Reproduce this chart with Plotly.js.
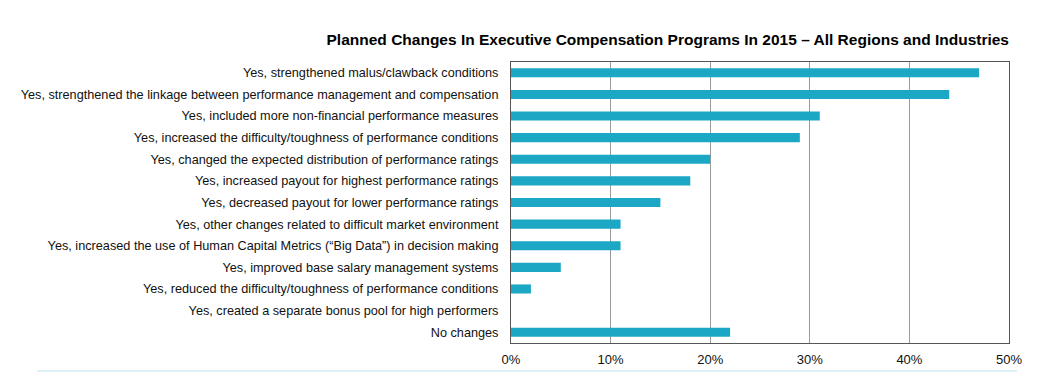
<!DOCTYPE html>
<html>
<head>
<meta charset="utf-8">
<script src="https://cdn.plot.ly/plotly-3.0.1.min.js"></script>
<style>html,body{margin:0;padding:0;background:#fff;}#chart{width:1043px;height:374px;}</style>
</head>
<body>
<div id="chart"></div>
<script>
const categories = [
  "Yes, strengthened malus/clawback conditions",
  "Yes, strengthened the linkage between performance management and compensation",
  "Yes, included more non-financial performance measures",
  "Yes, increased the difficulty/toughness of performance conditions",
  "Yes, changed the expected distribution of performance ratings",
  "Yes, increased payout for highest performance ratings",
  "Yes, decreased payout for lower performance ratings",
  "Yes, other changes related to difficult market environment",
  "Yes, increased the use of Human Capital Metrics (\u201cBig Data\u201d) in decision making",
  "Yes, improved base salary management systems",
  "Yes, reduced the difficulty/toughness of performance conditions",
  "Yes, created a separate bonus pool for high performers",
  "No changes"
];
const values = [47, 44, 31, 29, 20, 18, 15, 11, 11, 5, 2, 0, 22];
const tickVals = [0, 10, 20, 30, 40, 50];
const tickText = ["0%", "10%", "20%", "30%", "40%", "50%"];
const chartTitle = "Planned Changes In Executive Compensation Programs In 2015 \u2013 All Regions and Industries";

const trace = {
  type: "bar",
  orientation: "h",
  y: categories,
  x: values,
  width: 0.42,
  marker: {color: "#1ca7c5", line: {width: 0}},
  hoverinfo: "x+y"
};

const layout = {
  width: 1043,
  height: 374,
  margin: {l: 511, r: 34, t: 62, b: 31, pad: 0},
  paper_bgcolor: "#ffffff",
  plot_bgcolor: "#ffffff",
  font: {family: "Liberation Sans, Arial, sans-serif", color: "#1a1a1a", size: 12},
  showlegend: false,
  title: {
    text: "<b>" + chartTitle + "</b>",
    font: {size: 15.5, color: "#000000", family: "Liberation Sans, Arial, sans-serif"},
    xref: "paper", x: 1, xanchor: "right",
    yref: "container", y: 1 - 40/374, yanchor: "middle"
  },
  xaxis: {
    range: [0, 50],
    tickvals: tickVals,
    ticktext: tickText,
    showgrid: true,
    gridcolor: "#9a9a9a",
    gridwidth: 1,
    zeroline: false,
    showline: true,
    linecolor: "#555555",
    linewidth: 1,
    mirror: true,
    ticks: "",
    ticklabelstandoff: 4,
    tickfont: {size: 13, color: "#111111"},
    fixedrange: true
  },
  yaxis: {
    autorange: "reversed",
    type: "category",
    showgrid: false,
    zeroline: false,
    showline: true,
    linecolor: "#555555",
    linewidth: 1,
    mirror: true,
    ticks: "",
    ticklabelstandoff: 9,
    tickfont: {size: 12.7, color: "#111111"},
    fixedrange: true
  },
  shapes: [{
    type: "line", xref: "paper", yref: "paper",
    x0: -474/498, x1: 1004/498 - 1,
    y0: -28/281, y1: -28/281,
    line: {color: "#dcf0f5", width: 2}
  }]
};

Plotly.newPlot("chart", [trace], layout, {displayModeBar: false, staticPlot: true});
</script>
</body>
</html>
